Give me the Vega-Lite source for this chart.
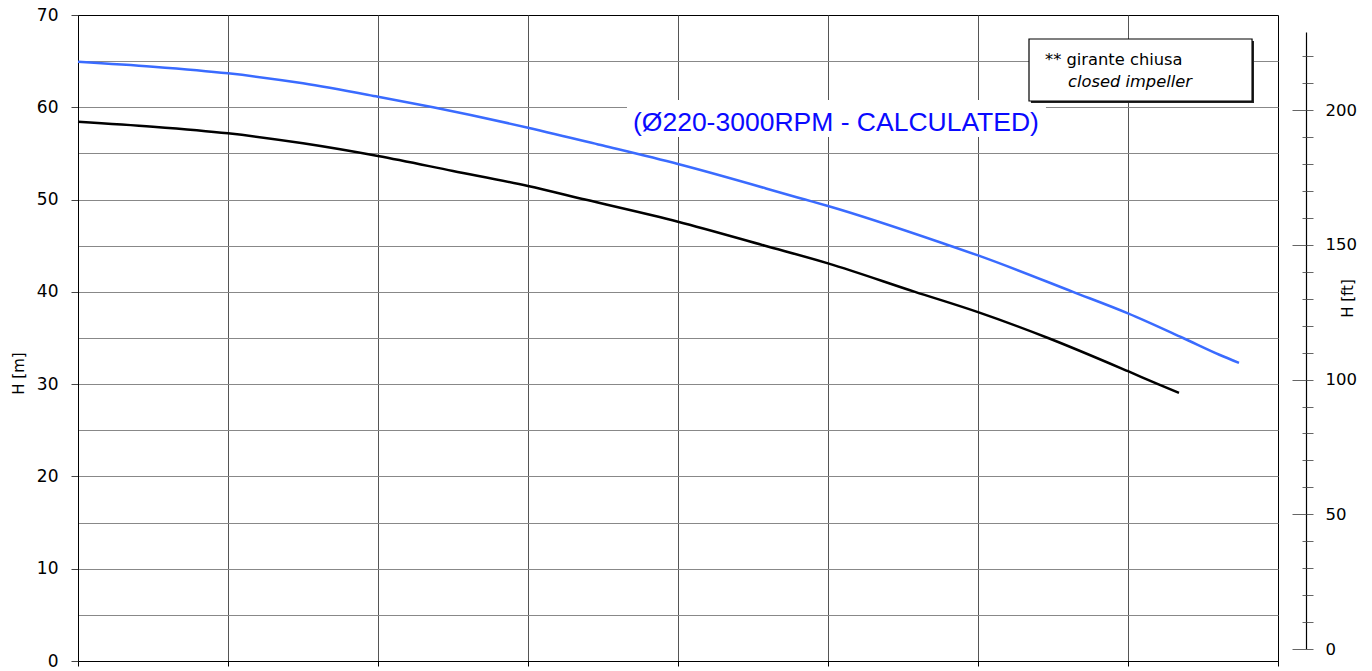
{
  "$schema": "https://vega.github.io/schema/vega-lite/v6.json",
  "width": 1200,
  "height": 646,
  "autosize": "none",
  "padding": {"left": 78, "top": 15, "right": 94, "bottom": 10},
  "background": "white",
  "config": {
    "view": {"stroke": "black", "strokeWidth": 1},
    "font": "DejaVu Sans",
    "axis": {"labelFont": "DejaVu Sans", "titleFont": "DejaVu Sans", "labelColor": "black", "titleColor": "black"}
  },
  "datasets": {
    "curves": [
      {"Q": 0, "H": 64.94, "curve": "calculated"},
      {"Q": 0.5, "H": 64.4, "curve": "calculated"},
      {"Q": 1, "H": 63.68, "curve": "calculated"},
      {"Q": 1.5, "H": 62.6, "curve": "calculated"},
      {"Q": 2, "H": 61.15, "curve": "calculated"},
      {"Q": 2.367, "H": 60.0, "curve": "calculated"},
      {"Q": 3, "H": 57.79, "curve": "calculated"},
      {"Q": 3.5, "H": 55.85, "curve": "calculated"},
      {"Q": 4, "H": 53.85, "curve": "calculated"},
      {"Q": 4.847, "H": 50.0, "curve": "calculated"},
      {"Q": 5, "H": 49.3, "curve": "calculated"},
      {"Q": 5.813, "H": 45.0, "curve": "calculated"},
      {"Q": 6, "H": 43.95, "curve": "calculated"},
      {"Q": 6.633, "H": 40.0, "curve": "calculated"},
      {"Q": 7, "H": 37.67, "curve": "calculated"},
      {"Q": 7.367, "H": 35.0, "curve": "calculated"},
      {"Q": 7.613, "H": 33.16, "curve": "calculated"},
      {"Q": 7.74, "H": 32.3, "curve": "calculated"},
      {"Q": 0, "H": 58.44, "curve": "closed impeller"},
      {"Q": 0.5, "H": 57.9, "curve": "closed impeller"},
      {"Q": 1, "H": 57.18, "curve": "closed impeller"},
      {"Q": 1.5, "H": 56.1, "curve": "closed impeller"},
      {"Q": 2, "H": 54.72, "curve": "closed impeller"},
      {"Q": 2.5, "H": 53.1, "curve": "closed impeller"},
      {"Q": 3, "H": 51.47, "curve": "closed impeller"},
      {"Q": 3.38, "H": 50.0, "curve": "closed impeller"},
      {"Q": 4, "H": 47.6, "curve": "closed impeller"},
      {"Q": 4.58, "H": 45.0, "curve": "closed impeller"},
      {"Q": 5, "H": 43.09, "curve": "closed impeller"},
      {"Q": 5.58, "H": 40.0, "curve": "closed impeller"},
      {"Q": 6, "H": 37.8, "curve": "closed impeller"},
      {"Q": 6.467, "H": 35.0, "curve": "closed impeller"},
      {"Q": 7, "H": 31.4, "curve": "closed impeller"},
      {"Q": 7.2, "H": 30.0, "curve": "closed impeller"},
      {"Q": 7.34, "H": 29.05, "curve": "closed impeller"}
    ],
    "boxes": [
      {"kind": "labelbg", "x1": 3.66, "x2": 6.453, "y1": 60.79, "y2": 56.78},
      {"kind": "shadow", "x1": 6.353, "x2": 7.84, "y1": 67.18, "y2": 60.46},
      {"kind": "box", "x1": 6.34, "x2": 7.827, "y1": 67.4, "y2": 60.68}
    ],
    "notes": [
      {"text": "** girante chiusa", "Q": 6.447, "H": 64.58, "style": "normal"},
      {"text": "closed impeller", "Q": 6.6, "H": 62.23, "style": "italic"}
    ],
    "title": [
      {"text": "(Ø220-3000RPM - CALCULATED)", "Q": 5.053, "H": 57.43}
    ]
  },
  "resolve": {"scale": {"y": "independent"}, "axis": {"y": "independent"}},
  "layer": [
    {
      "layer": [
        {
          "data": {"name": "curves"},
          "mark": {"type": "point", "opacity": 0},
          "encoding": {
            "x": {
              "field": "Q", "type": "quantitative",
              "scale": {"domain": [0, 8], "nice": false, "zero": false},
              "axis": {
                "orient": "bottom", "values": [0, 1, 2, 3, 4, 5, 6, 7, 8],
                "labels": false, "title": null,
                "tickSize": 5, "tickColor": "black", "domainColor": "black",
                "grid": true, "gridColor": "#555555", "gridWidth": 1,
                "gridOpacity": {"condition": {"test": "datum.value === 0 || datum.value === 8", "value": 0}, "value": 1}
              }
            },
            "y": {
              "field": "H", "type": "quantitative",
              "scale": {"domain": [0, 70], "nice": false, "zero": false},
              "axis": {
                "orient": "left",
                "values": [0, 5, 10, 15, 20, 25, 30, 35, 40, 45, 50, 55, 60, 65, 70],
                "labelExpr": "datum.value % 10 === 0 ? datum.label : ''",
                "labelFontSize": 17, "labelPadding": 13,
                "tickSize": 7, "tickColor": "#444444", "domainColor": "black",
                "tickOpacity": {"condition": {"test": "datum.value % 10 !== 0", "value": 0}, "value": 1},
                "grid": true, "gridColor": "#888888", "gridWidth": 1,
                "gridOpacity": {"condition": {"test": "datum.value === 0 || datum.value === 70", "value": 0}, "value": 1},
                "title": "H [m]", "titleFontSize": 15, "titleFontWeight": "normal",
                "titleX": -60, "titleY": 358, "titleBaseline": "middle", "titleAngle": 270
              }
            }
          }
        },
        {
          "data": {"name": "boxes"},
          "transform": [{"filter": "datum.kind === 'labelbg'"}],
          "mark": {"type": "rect", "fill": "white"},
          "encoding": {
            "x": {"field": "x1", "type": "quantitative"},
            "x2": {"field": "x2"},
            "y": {"field": "y1", "type": "quantitative"},
            "y2": {"field": "y2"}
          }
        },
        {
          "data": {"name": "boxes"},
          "transform": [{"filter": "datum.kind === 'shadow'"}],
          "mark": {"type": "rect", "fill": "#222222"},
          "encoding": {
            "x": {"field": "x1", "type": "quantitative"},
            "x2": {"field": "x2"},
            "y": {"field": "y1", "type": "quantitative"},
            "y2": {"field": "y2"}
          }
        },
        {
          "data": {"name": "boxes"},
          "transform": [{"filter": "datum.kind === 'box'"}],
          "mark": {"type": "rect", "fill": "white", "stroke": "black", "strokeWidth": 1.2},
          "encoding": {
            "x": {"field": "x1", "type": "quantitative"},
            "x2": {"field": "x2"},
            "y": {"field": "y1", "type": "quantitative"},
            "y2": {"field": "y2"}
          }
        },
        {
          "data": {"name": "curves"},
          "mark": {"type": "line", "strokeWidth": 2.5, "interpolate": "monotone"},
          "encoding": {
            "x": {"field": "Q", "type": "quantitative"},
            "y": {"field": "H", "type": "quantitative"},
            "color": {
              "field": "curve", "type": "nominal",
              "scale": {"domain": ["calculated", "closed impeller"], "range": ["#3a6bff", "#000000"]},
              "legend": null
            }
          }
        },
        {
          "data": {"name": "notes"},
          "transform": [{"filter": "datum.style === 'normal'"}],
          "mark": {"type": "text", "align": "left", "baseline": "alphabetic", "font": "DejaVu Sans", "fontSize": 16.3, "fontStyle": "normal", "color": "black"},
          "encoding": {
            "x": {"field": "Q", "type": "quantitative"},
            "y": {"field": "H", "type": "quantitative"},
            "text": {"field": "text"}
          }
        },
        {
          "data": {"name": "notes"},
          "transform": [{"filter": "datum.style === 'italic'"}],
          "mark": {"type": "text", "align": "left", "baseline": "alphabetic", "font": "DejaVu Sans", "fontSize": 16.3, "fontStyle": "italic", "color": "black"},
          "encoding": {
            "x": {"field": "Q", "type": "quantitative"},
            "y": {"field": "H", "type": "quantitative"},
            "text": {"field": "text"}
          }
        },
        {
          "data": {"name": "title"},
          "mark": {"type": "text", "align": "center", "baseline": "alphabetic", "font": "Liberation Sans", "fontSize": 26.5, "color": "#0a0aff"},
          "encoding": {
            "x": {"field": "Q", "type": "quantitative"},
            "y": {"field": "H", "type": "quantitative"},
            "text": {"field": "text"}
          }
        }
      ]
    },
    {
      "data": {"name": "curves"},
      "mark": {"type": "point", "opacity": 0},
      "encoding": {
        "y": {
          "field": "H", "type": "quantitative",
          "scale": {"domain": [0, 229], "range": [634, 17], "nice": false, "zero": false},
          "axis": {
            "orient": "right", "offset": 28,
            "values": [0, 10, 20, 30, 40, 50, 60, 70, 80, 90, 100, 110, 120, 130, 140, 150, 160, 170, 180, 190, 200, 210, 220],
            "labelExpr": "datum.value % 50 === 0 ? datum.label : ''",
            "labelFontSize": 16.5, "labelPadding": 12, "labelFlush": false, "labelOverlap": false,
            "tickSize": 7, "tickColor": "#666666", "domainColor": "black", "domainWidth": 1.2,
            "grid": false,
            "title": "H [ft]", "titleFontSize": 15, "titleFontWeight": "normal",
            "titleAngle": 270, "titleX": 41, "titleY": 283, "titleBaseline": "middle"
          }
        }
      }
    },
    {
      "data": {"name": "curves"},
      "mark": {"type": "point", "opacity": 0},
      "encoding": {
        "y": {
          "field": "H", "type": "quantitative",
          "scale": {"domain": [0, 229], "range": [634, 17], "nice": false, "zero": false},
          "axis": {
            "orient": "right", "offset": 28,
            "values": [0, 10, 20, 30, 40, 50, 60, 70, 80, 90, 100, 110, 120, 130, 140, 150, 160, 170, 180, 190, 200, 210, 220],
            "labels": false, "domain": false, "grid": false, "title": null,
            "tickColor": "#666666",
            "tickSize": {"condition": {"test": "datum.value % 50 === 0", "value": -14}, "value": -4}
          }
        }
      }
    }
  ]
}
